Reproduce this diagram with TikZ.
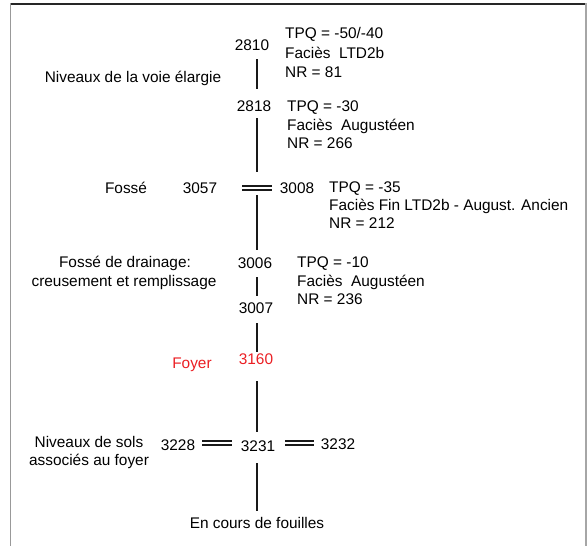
\documentclass[tikz,border=0pt]{standalone}
\usepackage{fontspec}
\setmainfont{Liberation Sans}
\definecolor{fred}{RGB}{235,30,35}
\begin{document}
\begin{tikzpicture}[x=1pt,y=-1pt,
  txt/.style={inner sep=0pt,text height=11pt,text depth=0pt,font=\fontsize{15.4}{19}\selectfont},
  lft/.style={txt,anchor=west},
  redtxt/.style={txt,text=fred},
  vline/.style={line width=1.6pt,black!90},
  dbl/.style={draw=black!90,double,double distance=2.8pt,line width=1.3pt}]
\useasboundingbox (0,0) rectangle (588,546);
% frame
\draw[line width=1.2pt,black!85] (10.5,4) -- (586,4);
\draw[line width=1.8pt,black!40] (10.5,3.4) -- (10.5,546);
\draw[line width=1.5pt,black!35] (586,3.4) -- (586,546);
\coordinate (axis) at (257,0);
% 2810
\node[txt] (n2810) at (252,45) {2810};
\node[lft] (t2810a) at (285,33) {TPQ = -50/-40};
\node[lft] (t2810b) at (285,53) {Faciès\ \ LTD2b};
\node[lft] (t2810c) at (285,72) {NR = 81};
\node[txt] (lvoie) at (133,77) {Niveaux de la voie élargie};
% 2818
\node[txt] (n2818) at (254,106) {2818};
\node[lft] (t2818a) at (287,106) {TPQ = -30};
\node[lft] (t2818b) at (287,125) {Faciès\ \ Augustéen};
\node[lft] (t2818c) at (287,143) {NR = 266};
% Fosse
\node[txt] (lfosse) at (126,188) {Fossé};
\node[txt] (n3057) at (200,188) {3057};
\node[txt] (n3008) at (297,188) {3008};
\coordinate (eq1) at (257,188);
\node[lft] (t3008a) at (329,187) {TPQ = -35};
\node[lft] (t3008b) at (329,205) {Faciès Fin LTD2b - August. Ancien};
\node[lft] (t3008c) at (329,223) {NR = 212};
% drainage
\node[txt] (ldraina) at (125,262) {Fossé de drainage:};
\node[txt] (ldrainb) at (124,281) {creusement et remplissage};
\node[txt] (n3006) at (255,263) {3006};
\node[lft] (t3006a) at (297,262) {TPQ = -10};
\node[lft] (t3006b) at (297,281) {Faciès\ \ Augustéen};
\node[lft] (t3006c) at (297,299) {NR = 236};
\node[txt] (n3007) at (256,308) {3007};
% foyer
\node[redtxt] (n3160) at (256,359) {3160};
\node[redtxt] (lfoyer) at (192,363) {Foyer};
% sols
\node[txt] (lsolsa) at (89,442) {Niveaux de sols};
\node[txt] (lsolsb) at (89,460) {associés au foyer};
\node[txt] (n3228) at (178,445) {3228};
\node[txt] (n3231) at (258,446) {3231};
\node[txt] (n3232) at (338,444) {3232};
\node[txt] (lfouilles) at (257,523) {En cours de fouilles};
% connectors
\draw[vline,shorten <=8.5pt,shorten >=11.5pt] (n2810.south -| axis) -- (n2818.north -| axis);
\draw[vline,shorten <=6.5pt,shorten >=16pt] (n2818.south -| axis) -- (eq1);
\draw[vline,shorten <=7pt,shorten >=7.5pt] (eq1) -- (n3006.north -| axis);
\draw[vline,shorten <=8.5pt,shorten >=6.5pt] (n3006.south -| axis) -- (n3007.north -| axis);
\draw[vline,shorten <=9.5pt,shorten >=1.5pt] (n3007.south -| axis) -- (n3160.north -| axis);
\draw[vline,shorten <=16.5pt,shorten >=8.5pt] (n3160.south -| axis) -- (n3231.north -| axis);
\draw[vline,shorten <=11.5pt,shorten >=6pt] (n3231.south -| axis) -- (lfouilles.north -| axis);
% double connectors
\draw[dbl,shorten <=25pt,shorten >=8pt] (n3057.east) -- (n3008.west);
\draw[dbl,shorten <=7pt,shorten >=9pt] ([yshift=2pt]n3228.east) -- ([yshift=3pt]n3231.west);
\draw[dbl,shorten <=10pt,shorten >=7pt] ([yshift=3pt]n3231.east) -- ([yshift=1pt]n3232.west);
\end{tikzpicture}
\end{document}
